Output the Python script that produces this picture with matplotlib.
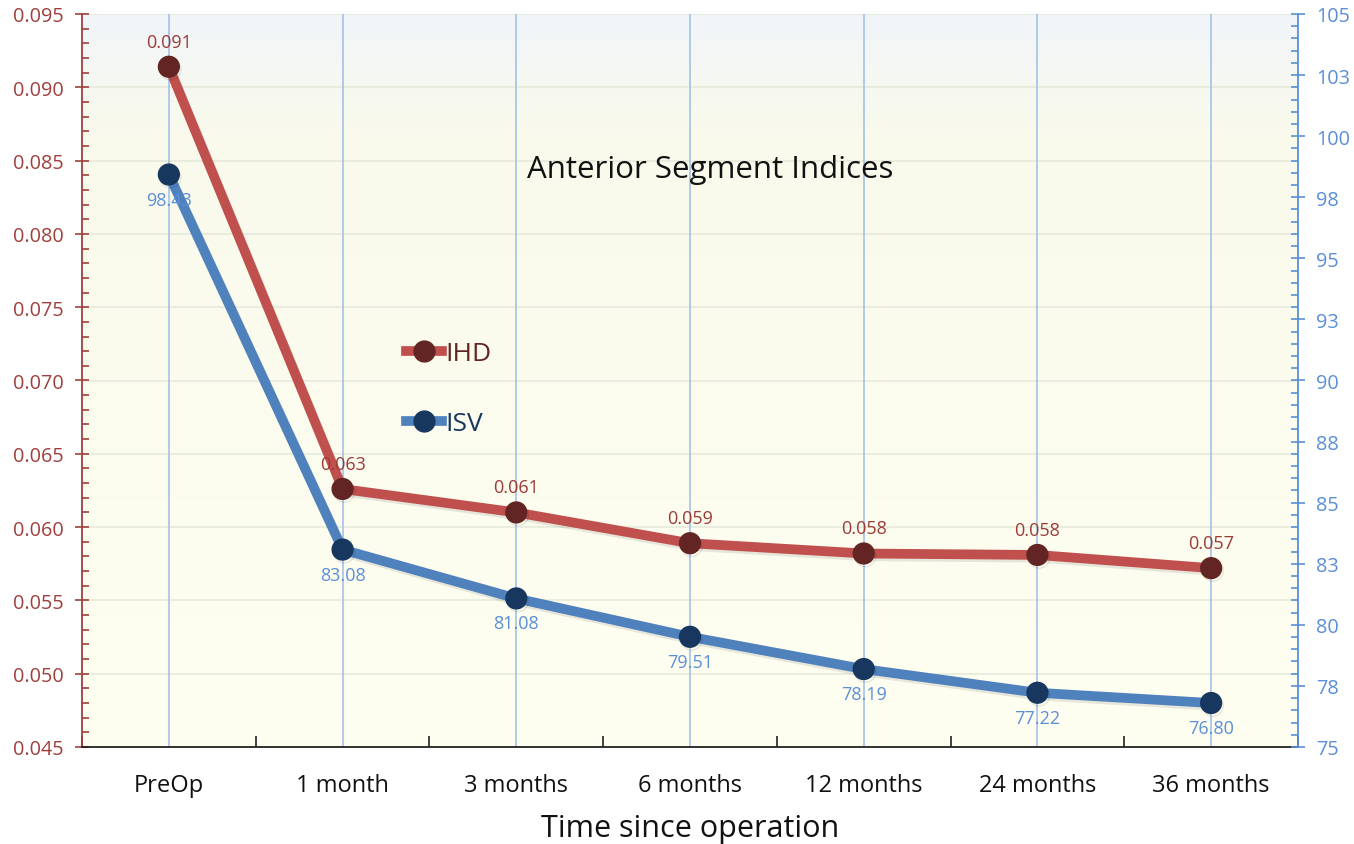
import numpy as np
import matplotlib
matplotlib.use("Agg")
import matplotlib.pyplot as plt
from matplotlib.colors import LinearSegmentedColormap
from matplotlib.ticker import MultipleLocator, FixedLocator, FormatStrFormatter
from matplotlib.lines import Line2D
import matplotlib.patheffects as pe

plt.rcParams['font.family'] = ['Open Sans', 'DejaVu Sans']

categories = ["PreOp", "1 month", "3 months", "6 months", "12 months", "24 months", "36 months"]
ihd = [0.0914, 0.0626, 0.0610, 0.0589, 0.0582, 0.0581, 0.0572]
isv = [98.43, 83.08, 81.08, 79.51, 78.19, 77.22, 76.80]
right_ticks = [75, 77.5, 80, 82.5, 85, 87.5, 90, 92.5, 95, 97.5, 100, 102.5, 105]
right_tick_labels = ["75", "78", "80", "83", "85", "88", "90", "93", "95", "98", "100", "103", "105"]

IHD_LINE = "#c0504d"
IHD_MARK = "#632523"
IHD_TEXT = "#9b3b38"
ISV_LINE = "#4f81bd"
ISV_MARK = "#17375e"
ISV_TEXT = "#5b8fd6"

fig = plt.figure(figsize=(13.54, 8.45), dpi=100)
ax = fig.add_axes([82 / 1354, 1 - 748 / 845, (1298 - 82) / 1354, (748 - 15) / 845])
ax2 = ax.twinx()

x = np.arange(len(categories))

# plot-area background gradient (top row of the array sits at the top)
cmap = LinearSegmentedColormap.from_list(
    "bg", [(0.0, "#f1f5f9"), (0.16, "#f9faec"), (1.0, "#fefef1")])
grad = np.linspace(0, 1, 256).reshape(-1, 1)
ax.imshow(grad, extent=[0, 1, 0, 1], origin="upper", transform=ax.transAxes,
          aspect="auto", cmap=cmap, zorder=0, interpolation="bicubic")
ax.set_facecolor("white")

ax.set_xlim(-0.5, len(categories) - 0.5)
ax.set_ylim(0.045, 0.095)
ax2.set_ylim(75, 105)

# grid lines
for v in np.arange(0.050, 0.0951, 0.005):
    ax.axhline(v, color="#e6eadb", lw=1.2, zorder=1)
for xi in x:
    ax.axvline(xi, color="#9dbde8", lw=1.1, zorder=1)

ln1, = ax.plot(x, ihd, color=IHD_LINE, lw=7, marker="o", ms=15,
               mfc=IHD_MARK, mec=IHD_MARK, zorder=3, solid_capstyle="round")
ln1.set_path_effects([pe.SimpleLineShadow(offset=(1.2, -2.0), alpha=0.09), pe.Normal()])
ln2, = ax2.plot(x, isv, color=ISV_LINE, lw=7, marker="o", ms=15,
                mfc=ISV_MARK, mec=ISV_MARK, zorder=3, solid_capstyle="round")
ln2.set_path_effects([pe.SimpleLineShadow(offset=(1.2, -2.0), alpha=0.09), pe.Normal()])

for xi, v in zip(x, ihd):
    ax.annotate(f"{v:.3f}", (xi, v), xytext=(0, 18), textcoords="offset points",
                ha="center", va="center", color=IHD_TEXT, fontsize=13, zorder=5)
for xi, v in zip(x, isv):
    ax2.annotate(f"{v:.2f}", (xi, v), xytext=(0, -18), textcoords="offset points",
                 ha="center", va="center", color=ISV_TEXT, fontsize=13, zorder=5)

# left axis
ax.yaxis.set_major_locator(MultipleLocator(0.005))
ax.yaxis.set_minor_locator(MultipleLocator(0.001))
ax.yaxis.set_major_formatter(FormatStrFormatter("%.3f"))
ax.tick_params(axis="y", which="major", direction="inout", length=10, width=1.2,
               color="#a0403c", labelcolor="#a0403c", labelsize=14.3, pad=8)
ax.tick_params(axis="y", which="minor", direction="in", length=5, width=1.2, color="#a0403c")
ax.spines["left"].set_color("#a0403c")
ax.spines["left"].set_linewidth(1.3)

# right axis
ax2.yaxis.set_major_locator(FixedLocator(right_ticks))
ax2.set_yticklabels(right_tick_labels)
ax2.yaxis.set_minor_locator(MultipleLocator(0.5))
ax2.tick_params(axis="y", which="major", direction="inout", length=10, width=1.2,
                color="#5b8fd6", labelcolor="#5b8fd6", labelsize=14.3, pad=8)
ax2.tick_params(axis="y", which="minor", direction="in", length=5, width=1.2, color="#5b8fd6")
ax2.spines["right"].set_color("#5b8fd6")
ax2.spines["right"].set_linewidth(1.3)

for a in (ax, ax2):
    a.spines["top"].set_visible(False)
    a.spines["left"].set_visible(a is ax)
    a.spines["right"].set_visible(a is ax2)
    a.spines["bottom"].set_visible(a is ax)
ax.spines["bottom"].set_color("#222222")
ax.spines["bottom"].set_linewidth(1.3)

# x axis: labels at category centres, ticks at category boundaries
ax.set_xticks(x)
ax.set_xticklabels(categories)
ax.set_xticks(np.arange(-0.5, len(categories)), minor=True)
ax.tick_params(axis="x", which="major", length=0, labelsize=17, pad=19, labelcolor="#111111")
ax.tick_params(axis="x", which="minor", direction="in", length=8, width=1.2, color="#222222")
ax.set_xlabel("Time since operation", fontsize=22, labelpad=11, color="#111111")

ax.text(0.517, 0.788, "Anterior Segment Indices", transform=ax.transAxes,
        ha="center", va="center", fontsize=22.5, color="#111111", zorder=6)

handles = [
    Line2D([], [], color=IHD_LINE, lw=7, marker="o", ms=15, mfc=IHD_MARK, mec=IHD_MARK),
    Line2D([], [], color=ISV_LINE, lw=7, marker="o", ms=15, mfc=ISV_MARK, mec=ISV_MARK),
]
leg = ax2.legend(handles, ["IHD", "ISV"], loc="center left",
                 bbox_to_anchor=(0.247, 0.489), frameon=False, fontsize=19,
                 handlelength=1.35, handletextpad=0.15, labelspacing=1.7)
leg.get_texts()[0].set_color(IHD_MARK)
leg.get_texts()[1].set_color(ISV_MARK)

fig.savefig("out.png", dpi=100, facecolor="white")
